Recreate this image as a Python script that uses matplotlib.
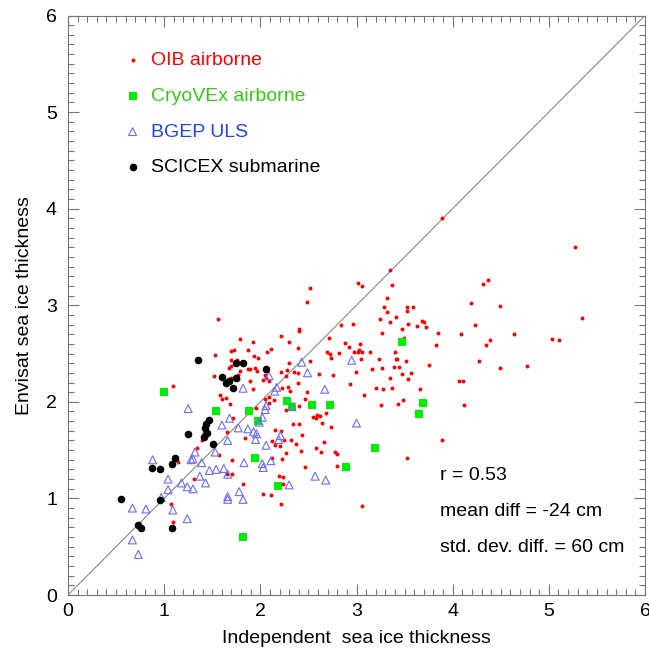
import matplotlib
matplotlib.use("Agg")
import matplotlib.pyplot as plt

plt.rcParams["font.family"] = ["Liberation Sans", "DejaVu Sans"]

# OIB airborne (independent, envisat)
oib_x = [1.56, 1.79, 1.92, 1.53, 1.69, 1.73, 1.87, 1.93, 1.98, 2.07, 2.11, 1.69, 1.76, 1.67,
         1.69, 1.79, 1.87, 1.89, 1.94, 1.97, 1.52, 1.77, 2.05, 2.06, 2.03, 1.89, 1.69, 1.77,
         1.09, 1.92, 2.09,
         3.35, 3.02, 3.06, 3.37, 2.52, 2.49, 3.32, 3.29, 3.53, 3.59, 3.32, 3.52, 3.41, 3.24,
         3.35, 3.68, 3.70, 3.54, 3.63, 3.72, 3.47, 2.84, 2.96, 2.40, 2.40, 3.26, 3.85, 2.21,
         2.71, 3.49, 2.30, 2.88, 3.04, 2.92, 3.83, 2.39, 3.03, 2.97, 3.02, 3.06, 2.69, 2.72,
         2.82, 3.14, 3.40, 2.74, 3.05, 3.23, 3.41, 3.42, 2.52, 2.30, 3.51, 3.75, 3.39, 3.44,
         3.16, 3.27, 2.28, 2.21, 2.35, 2.39, 2.61, 2.76, 2.99, 3.47, 3.57, 3.35, 3.54, 2.39,
         2.93, 2.23, 2.29, 3.20, 3.28, 3.37, 3.66, 2.27,
         5.27, 4.37, 4.32, 4.19, 4.49, 4.23, 4.09, 4.64, 4.39, 4.35, 5.03, 5.11, 5.35, 4.27,
         4.49, 4.77, 4.07, 4.11, 3.89,
         3.08, 3.25, 3.43, 3.48, 4.12, 2.74, 2.78, 2.80, 2.80, 3.52, 3.89, 3.06,
         2.49, 2.31, 2.46, 2.34, 2.40, 2.27, 3.63, 2.68, 2.59, 2.55, 2.58, 2.62, 2.64, 2.34,
         2.40, 2.15, 2.22, 2.43, 2.25, 2.32, 2.66, 2.37, 2.20, 2.15, 2.58, 2.42, 2.63, 2.27,
         2.23, 2.46, 2.19, 2.24, 2.24, 2.21,
         1.58, 1.64, 1.60, 1.68, 2.09, 2.05, 2.09, 2.14, 1.95, 1.45, 1.72, 1.41, 1.39, 1.65,
         1.84, 2.12, 1.34, 1.57, 1.71, 2.12, 1.14, 1.65, 1.71, 1.31, 1.82, 2.03, 2.11, 1.07,
         1.09]
oib_y = [2.86, 2.65, 2.62, 2.49, 2.53, 2.54, 2.54, 2.47, 2.45, 2.52, 2.55, 2.43, 2.43, 2.35,
         2.37, 2.32, 2.34, 2.34, 2.35, 2.32, 2.27, 2.28, 2.28, 2.25, 2.23, 2.22, 2.25, 2.24,
         2.16, 2.13, 2.22,
         3.36, 3.23, 3.20, 3.21, 3.18, 3.03, 3.08, 2.98, 2.98, 2.98, 2.93, 2.94, 2.88, 2.86,
         2.83, 2.84, 2.83, 2.81, 2.79, 2.77, 2.75, 2.80, 2.81, 2.75, 2.73, 2.71, 2.71, 2.68,
         2.66, 2.66, 2.62, 2.61, 2.60, 2.57, 2.59, 2.56, 2.54, 2.52, 2.52, 2.52, 2.52, 2.50,
         2.51, 2.52, 2.52, 2.45, 2.44, 2.44, 2.44, 2.44, 2.42, 2.40, 2.42, 2.38, 2.36, 2.36,
         2.34, 2.35, 2.33, 2.31, 2.31, 2.30, 2.29, 2.28, 2.31, 2.29, 2.30, 2.25, 2.24, 2.19,
         2.18, 2.14, 2.15, 2.14, 2.13, 2.14, 2.13, 2.27,
         3.60, 3.26, 3.22, 3.02, 2.99, 2.80, 2.70, 2.70, 2.64, 2.59, 2.65, 2.64, 2.87, 2.42,
         2.35, 2.37, 2.22, 2.22, 3.90,
         2.07, 1.97, 1.98, 2.02, 1.97, 1.74, 1.48, 1.46, 1.34, 1.42, 1.60, 0.92,
         2.10, 2.11, 2.03, 1.98, 1.96, 1.92, 1.90, 1.88, 1.86, 1.84, 1.83, 1.85, 1.78, 1.77,
         1.77, 1.71, 1.70, 1.66, 1.60, 1.61, 1.58, 1.56, 1.54, 1.55, 1.52, 1.49, 1.48, 1.47,
         1.41, 1.33, 1.23, 1.22, 1.15, 0.94,
         2.07, 2.04, 2.03, 1.98, 2.05, 2.03, 1.99, 2.02, 1.94, 1.81, 1.83, 1.68, 1.61, 1.69,
         1.63, 1.59, 1.52, 1.45, 1.40, 1.42, 1.38, 1.25, 1.25, 1.20, 1.15, 1.05, 1.04, 0.94,
         0.76]

# CryoVEx airborne
cryo_x = [1.00, 1.54, 1.88, 1.98, 1.94, 1.82, 2.28, 2.33, 2.54, 2.72, 2.18, 2.89, 3.19,
          3.47, 3.69, 3.65]
cryo_y = [2.10, 1.91, 1.91, 1.80, 1.42, 0.60, 2.01, 1.95, 1.97, 1.97, 1.13, 1.33, 1.52,
          2.62, 1.99, 1.87]

# BGEP ULS
bgep_x = [2.09, 1.82, 2.43, 2.49, 2.95, 2.67, 2.17, 3.00, 2.21, 2.19, 2.57, 2.68, 2.30,
          2.15, 2.33, 1.25, 1.68, 1.60, 1.77, 1.87, 1.93, 1.96, 2.02, 2.06, 2.05, 1.99,
          1.66, 1.95, 2.06, 1.32, 1.53, 1.28, 1.30, 1.39, 0.88, 1.83, 2.02, 2.03, 2.11,
          1.47, 1.54, 1.62, 1.66, 1.37, 1.43, 1.04, 1.18, 1.24, 1.30, 1.04, 0.97, 1.78,
          1.66, 1.66, 1.82, 0.67, 0.81, 1.09, 1.24, 0.67, 0.73]
bgep_y = [2.27, 2.14, 2.41, 2.30, 2.43, 2.13, 2.15, 1.78, 1.65, 1.61, 1.23, 1.19, 1.14,
          2.11, 1.95, 1.93, 1.83, 1.76, 1.73, 1.72, 1.69, 1.67, 1.84, 1.96, 1.92, 1.79,
          1.60, 1.61, 1.55, 1.48, 1.48, 1.40, 1.41, 1.37, 1.40, 1.37, 1.36, 1.32, 1.39,
          1.29, 1.30, 1.31, 1.25, 1.23, 1.16, 1.20, 1.16, 1.12, 1.10, 1.09, 1.01, 1.07,
          1.02, 0.99, 0.99, 0.90, 0.89, 0.88, 0.79, 0.57, 0.42]

# SCICEX submarine
scicex_x = [1.35, 1.75, 1.82, 2.06, 1.60, 1.64, 1.67, 1.75, 1.72, 1.47, 1.43, 1.42, 1.45,
            1.41, 1.25, 1.51, 1.11, 1.08, 0.87, 0.96, 0.55, 0.96, 0.73, 0.76, 1.08]
scicex_y = [2.43, 2.40, 2.40, 2.34, 2.26, 2.20, 2.22, 2.25, 2.14, 1.81, 1.77, 1.73, 1.68,
            1.64, 1.67, 1.56, 1.42, 1.36, 1.31, 1.30, 0.99, 0.98, 0.72, 0.69, 0.69]

stats = ["r = 0.53", "mean diff = -24 cm", "std. dev. diff. = 60 cm"]

fig = plt.figure(figsize=(6.49, 6.56), dpi=100)
ax = fig.add_axes([68 / 649, 61 / 656, 577 / 649, 579.5 / 656])

ax.axline((0, 0), slope=1, color="#888888", lw=0.8, zorder=1)

ax.scatter(oib_x, oib_y, s=8, c="#ff0000", marker="o", lw=0, label="OIB airborne", zorder=2)
ax.scatter(cryo_x, cryo_y, s=40, c="#00ee00", marker="s", lw=0, label="CryoVEx airborne", zorder=3)
ax.scatter(bgep_x, bgep_y, s=32, facecolors="none", edgecolors="#6a6aff", marker="^",
           lw=0.8, label="BGEP ULS", zorder=4)
ax.scatter(scicex_x, scicex_y, s=30, c="black", marker="o", lw=0, label="SCICEX submarine", zorder=5)

ax.set_xlim(0, 6)
ax.set_ylim(0, 6)
ax.set_xticks(range(7))
ax.set_yticks(range(7))
ax.minorticks_on()
ax.xaxis.set_minor_locator(plt.MultipleLocator(0.1))
ax.yaxis.set_minor_locator(plt.MultipleLocator(0.1))
ax.tick_params(which="both", direction="in", top=True, right=True, color="#777777",
               labelsize=14, width=0.8)
ax.tick_params(which="major", length=8)
ax.tick_params(which="minor", length=4)
ax.tick_params(axis="x", pad=6)
ax.tick_params(axis="y", pad=8)
for sp in ax.spines.values():
    sp.set_color("#777777")
    sp.set_linewidth(0.8)

ax.set_xlabel("Independent  sea ice thickness", fontsize=14, labelpad=7)
ax.set_ylabel("Envisat sea ice thickness", fontsize=14, labelpad=9)

ax.legend(loc="upper left", bbox_to_anchor=(0.09, 0.951), frameon=False, fontsize=14,
          handlelength=0.5, handletextpad=0.7, labelspacing=0.93, borderaxespad=0,
          labelcolor=["#ff0000", "#33cc11", "#2244ee", "black"])

for i, s in enumerate(stats):
    ax.text(0.645, 0.206 - i * 0.062, s, transform=ax.transAxes, fontsize=14, va="center")

fig.savefig("out.png", dpi=100)
